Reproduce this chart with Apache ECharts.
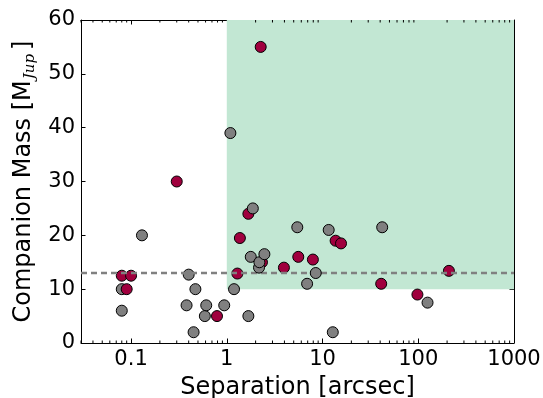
<!DOCTYPE html>
<html>
<head>
<meta charset="utf-8">
<script src="https://cdn.jsdelivr.net/npm/echarts@6/dist/echarts.min.js"></script>
<style>html,body{margin:0;padding:0;background:#fff}#c{width:543px;height:398px}</style>
</head>
<body>
<div id="c"></div>
<script>
// Gray companions drawn below the crimson ones (x: separation arcsec, y: mass MJup)
var grayLowSep = [0.08, 0.08, 0.13, 0.38, 0.40, 0.45, 0.47, 0.59, 0.61, 0.94];
var grayLowMass = [10, 6, 20, 7, 12.7, 2, 10, 5, 7, 7];
// Crimson companions
var crimsonSep = [0.08, 0.09, 0.10, 0.30, 0.79, 1.29, 1.37, 1.68, 2.26, 2.33, 3.95, 5.58, 7.93, 13.7, 15.6, 41, 98, 209];
var crimsonMass = [12.5, 10, 12.5, 30, 5, 12.9, 19.5, 24, 55, 15, 14, 16, 15.5, 19, 18.5, 11, 9, 13.4];
// Gray companions drawn above
var grayHighSep = [1.09, 1.19, 1.68, 1.78, 1.87, 2.17, 2.19, 2.47, 5.45, 6.9, 8.5, 11.6, 12.8, 42, 125];
var grayHighMass = [39, 10, 5, 16, 25, 14, 15, 16.5, 21.5, 11, 13, 21, 2, 21.5, 7.5];
// Reference lines / region
var thresholdMass = 13;
var regionSep = [1, 1000];
var regionMass = [10, 60];
// Axis ranges and ticks
var xRange = [0.03, 1000];
var yRange = [0, 60];
var yTickStep = 10;
var xMajorTicks = [0.1, 1, 10, 100, 1000];
var xMinorTicks = [];
[0.01, 0.1, 1, 10, 100].forEach(function (d) {
  for (var k = 2; k <= 9; k++) { var v = +(d * k).toPrecision(3); if (v >= xRange[0] && v <= xRange[1]) xMinorTicks.push(v); }
});

function pairs(xs, ys) { return xs.map(function (x, i) { return [x, ys[i]]; }); }

var font = 'DejaVu Sans';
var chart = echarts.init(document.getElementById('c'), null, { renderer: 'canvas' });

function minorTickSeries() {
  return {
    type: 'custom',
    silent: true,
    z: 10,
    data: xMinorTicks.map(function (v) { return [v]; }),
    renderItem: function (params, api) {
      var pb = api.coord([api.value(0), yRange[0]]);
      var pt = api.coord([api.value(0), yRange[1]]);
      var L = 2.5;
      return {
        type: 'group',
        children: [
          { type: 'line', shape: { x1: pb[0], y1: pb[1], x2: pb[0], y2: pb[1] - L }, style: { stroke: '#000', lineWidth: 1 } },
          { type: 'line', shape: { x1: pt[0], y1: pt[1], x2: pt[0], y2: pt[1] + L }, style: { stroke: '#000', lineWidth: 1 } }
        ]
      };
    }
  };
}

function scatter(name, xs, ys, color, z) {
  return {
    name: name,
    type: 'scatter',
    data: pairs(xs, ys),
    symbol: 'circle',
    symbolSize: 11,
    z: z,
    itemStyle: { color: color, borderColor: '#000', borderWidth: 1, opacity: 1 },
    emphasis: { disabled: true }
  };
}

var option = {
  animation: false,
  backgroundColor: '#fff',
  grid: { left: 81, right: 29, top: 20, bottom: 55, containLabel: false, outerBoundsMode: 'none' },
  xAxis: [{
    type: 'log',
    logBase: 10,
    min: xRange[0],
    max: xRange[1],
    position: 'bottom',
    name: 'Separation [arcsec]',
    nameLocation: 'middle',
    nameGap: 33,
    nameTextStyle: { fontFamily: font, fontSize: 24, color: '#000' },
    axisLine: { show: true, onZero: false, lineStyle: { color: '#000', width: 1 } },
    axisTick: { show: true, inside: true, length: 4.5, lineStyle: { color: '#000' },
      customValues: xMajorTicks },
    axisLabel: { fontFamily: font, fontSize: 21, color: '#000', margin: 6,
      customValues: xMajorTicks,
      formatter: function (v) { return String(+v.toPrecision(3)); } },
    splitLine: { show: false },
    minorTick: { show: false }
  }, {
    type: 'log',
    logBase: 10,
    min: xRange[0],
    max: xRange[1],
    position: 'top',
    axisLine: { show: true, onZero: false, lineStyle: { color: '#000', width: 1 } },
    axisTick: { show: true, inside: true, length: 4.5, lineStyle: { color: '#000' }, customValues: xMajorTicks },
    axisLabel: { show: false },
    splitLine: { show: false }
  }],
  yAxis: [{
    type: 'value',
    min: yRange[0],
    max: yRange[1],
    interval: yTickStep,
    position: 'left',
    name: '{a|Companion Mass [M}{s|Jup}{a|]}',
    nameLocation: 'middle',
    nameGap: 42,
    nameTextStyle: {
      color: '#000',
      rich: {
        a: { fontFamily: font, fontSize: 24, color: '#000' },
        s: { fontFamily: 'DejaVu Serif', fontStyle: 'italic', fontSize: 15, color: '#000', padding: [12, 4, 0, 1] }
      }
    },
    axisLine: { show: true, onZero: false, lineStyle: { color: '#000', width: 1 } },
    axisTick: { show: true, inside: true, length: 4.5, lineStyle: { color: '#000' } },
    axisLabel: { fontFamily: font, fontSize: 21, color: '#000', margin: 6 },
    splitLine: { show: false }
  }, {
    type: 'value',
    min: yRange[0],
    max: yRange[1],
    interval: yTickStep,
    position: 'right',
    axisLine: { show: true, onZero: false, lineStyle: { color: '#000', width: 1 } },
    axisTick: { show: true, inside: true, length: 4.5, lineStyle: { color: '#000' } },
    axisLabel: { show: false },
    splitLine: { show: false }
  }],
  series: [
    {
      type: 'line',
      data: [],
      silent: true,
      z: 1,
      markArea: {
        silent: true,
        itemStyle: { color: '#c2e7d3', opacity: 1 },
        data: [[{ coord: [regionSep[0], regionMass[0]] }, { coord: [regionSep[1], regionMass[1]] }]]
      },
      markLine: {
        silent: true,
        symbol: 'none',
        label: { show: false },
        lineStyle: { color: '#808080', width: 2.3, type: [6, 4], opacity: 1 },
        data: [{ yAxis: thresholdMass }]
      }
    },
    minorTickSeries(),
    scatter('grayLow', grayLowSep, grayLowMass, '#808080', 3),
    scatter('crimson', crimsonSep, crimsonMass, '#a0003e', 4),
    scatter('grayHigh', grayHighSep, grayHighMass, '#808080', 5)
  ]
};
chart.setOption(option);
</script>
</body>
</html>
